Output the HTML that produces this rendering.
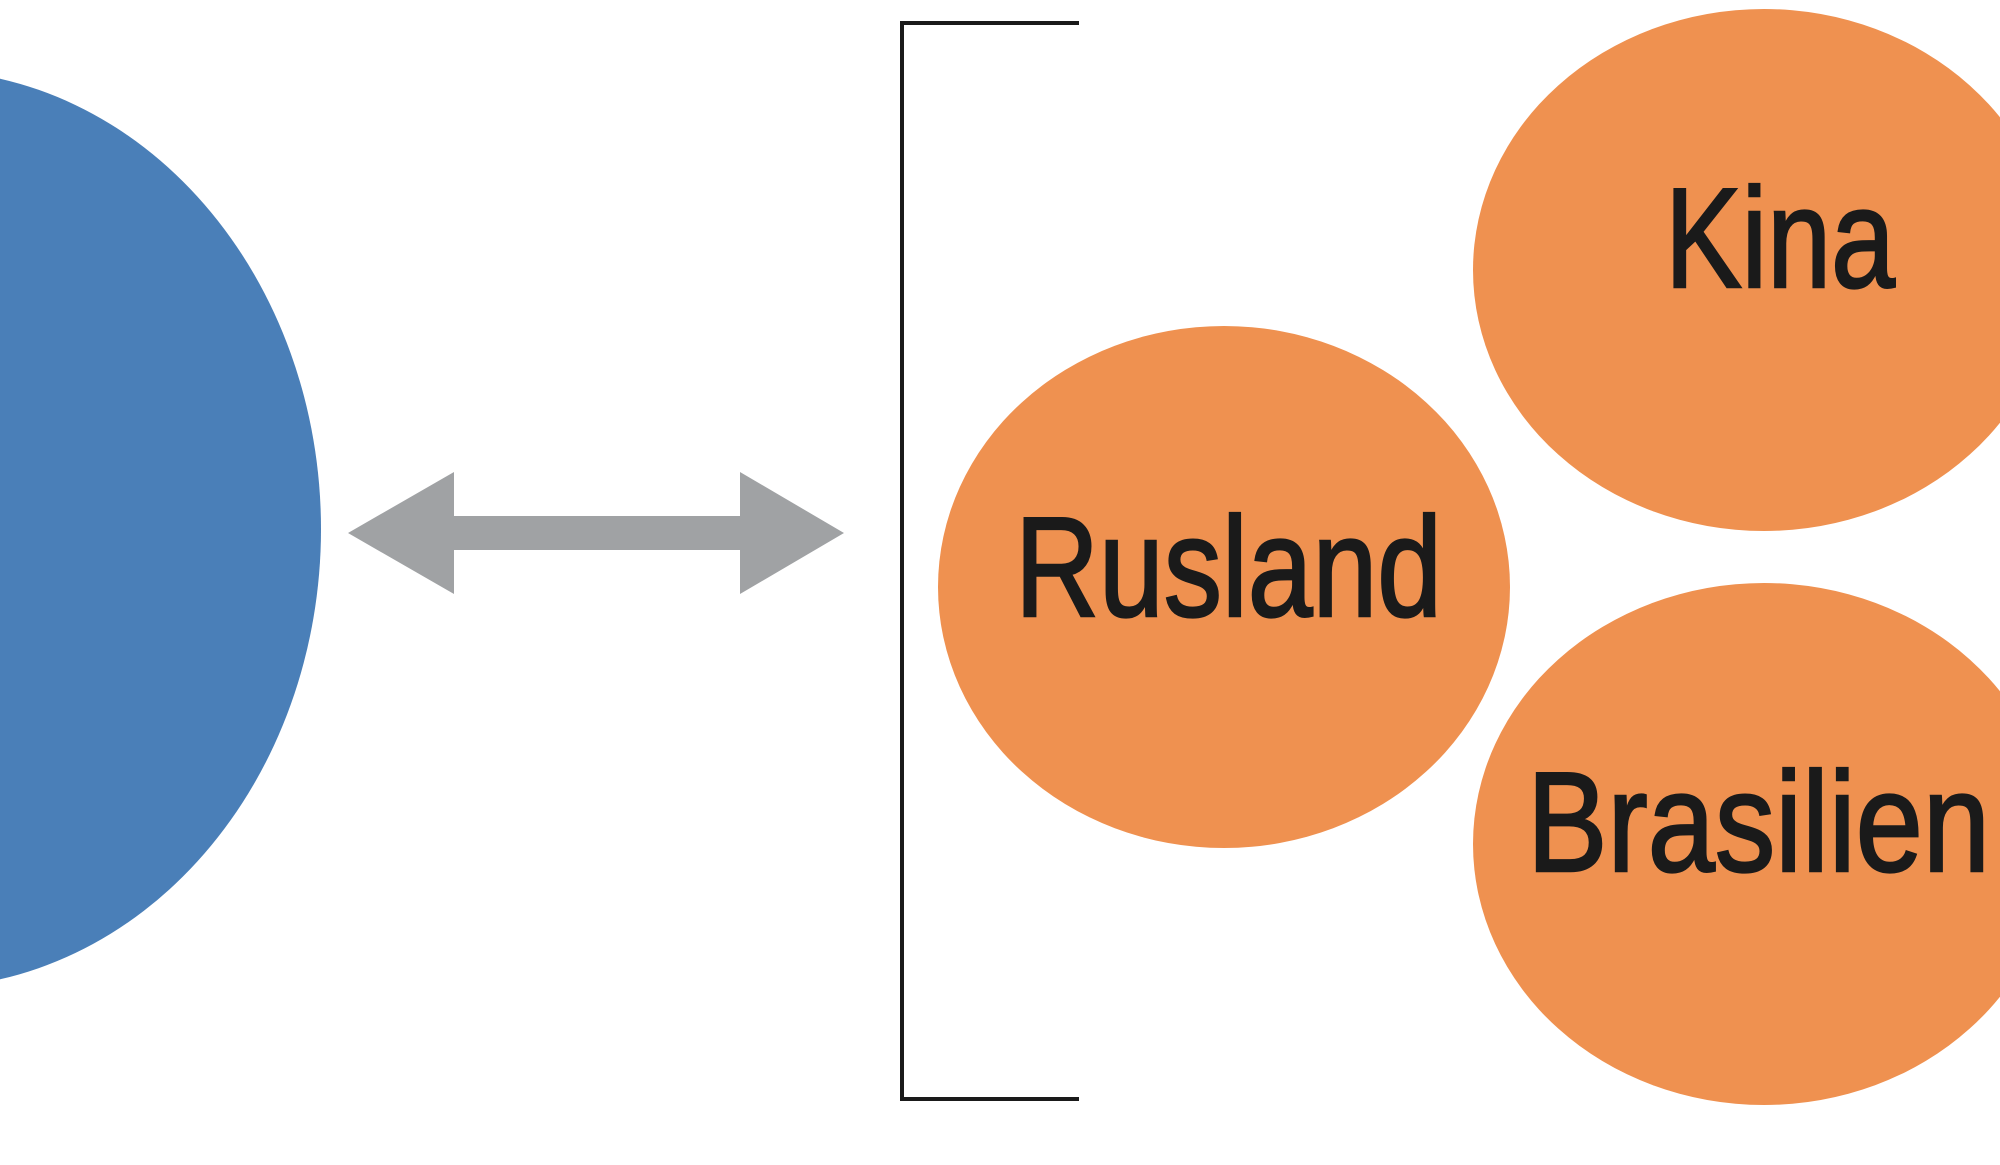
<!DOCTYPE html>
<html><head><meta charset="utf-8"><style>html,body{margin:0;padding:0;background:#fff}svg{display:block}</style></head>
<body>
<svg width="2000" height="1165" viewBox="0 0 2000 1165" xmlns="http://www.w3.org/2000/svg">
<rect width="2000" height="1165" fill="#fff"/>
<ellipse cx="-77" cy="529" rx="398" ry="459" fill="#4A7FB8"/>
<polygon points="348,533 454,472 454,516 740,516 740,472 844,533 740,594 740,550 454,550 454,594" fill="#A0A2A4"/>
<polyline points="1079,23 902,23 902,1099 1079,1099" fill="none" stroke="#1a1a1a" stroke-width="4"/>
<ellipse cx="1224" cy="587" rx="286" ry="261" fill="#EF9150"/>
<ellipse cx="1764" cy="270" rx="291" ry="261" fill="#EF9150"/>
<ellipse cx="1764" cy="844" rx="291" ry="261" fill="#EF9150"/>
<g font-family="'Liberation Sans Narrow','Liberation Sans',sans-serif" font-size="142" fill="#1a1a1a" stroke="#1a1a1a" stroke-width="2.5">
<text x="1015" y="616" textLength="427" lengthAdjust="spacingAndGlyphs">Rusland</text>
<text x="1665" y="287" textLength="230" lengthAdjust="spacingAndGlyphs">Kina</text>
<text x="1527" y="871" textLength="463" lengthAdjust="spacingAndGlyphs">Brasilien</text>
</g>
</svg>
</body></html>
